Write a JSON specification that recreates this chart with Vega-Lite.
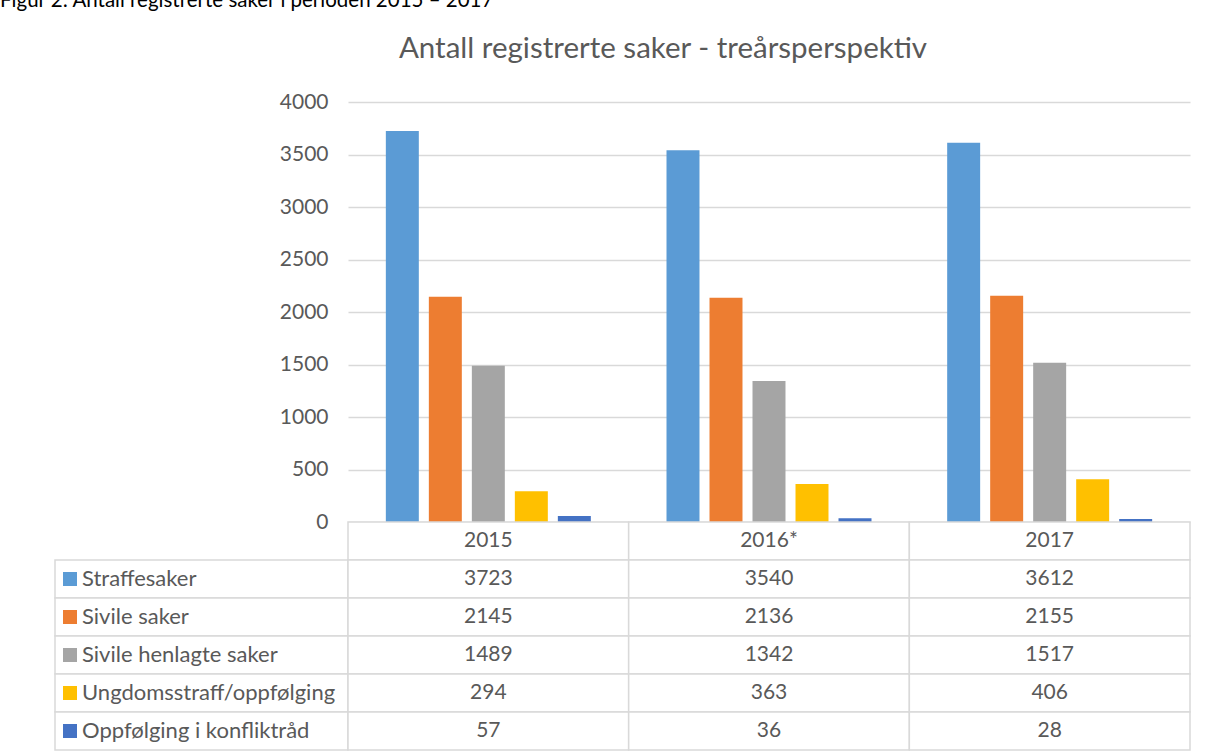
{
  "$schema": "https://vega.github.io/schema/vega-lite/v6.json",
  "background": "white",
  "padding": {"left": 0, "top": -9, "right": 0, "bottom": 0},
  "title": {
    "text": "Figur 2: Antall registrerte saker i perioden 2015 – 2017",
    "anchor": "start", "frame": "group", "dx": -55, "offset": 6,
    "baseline": "alphabetic", "fontSize": 20.5, "fontWeight": "normal",
    "font": "Lato", "color": "#000000"
  },
  "datasets": {
    "cases": [
      {"year": "2015", "series": "Straffesaker", "value": 3723},
      {"year": "2015", "series": "Sivile saker", "value": 2145},
      {"year": "2015", "series": "Sivile henlagte saker", "value": 1489},
      {"year": "2015", "series": "Ungdomsstraff/oppfølging", "value": 294},
      {"year": "2015", "series": "Oppfølging i konfliktråd", "value": 57},
      {"year": "2016*", "series": "Straffesaker", "value": 3540},
      {"year": "2016*", "series": "Sivile saker", "value": 2136},
      {"year": "2016*", "series": "Sivile henlagte saker", "value": 1342},
      {"year": "2016*", "series": "Ungdomsstraff/oppfølging", "value": 363},
      {"year": "2016*", "series": "Oppfølging i konfliktråd", "value": 36},
      {"year": "2017", "series": "Straffesaker", "value": 3612},
      {"year": "2017", "series": "Sivile saker", "value": 2155},
      {"year": "2017", "series": "Sivile henlagte saker", "value": 1517},
      {"year": "2017", "series": "Ungdomsstraff/oppfølging", "value": 406},
      {"year": "2017", "series": "Oppfølging i konfliktråd", "value": 28}
    ],
    "years": [{"year": "2015"}, {"year": "2016*"}, {"year": "2017"}],
    "series": [
      {"series": "Straffesaker"},
      {"series": "Sivile saker"},
      {"series": "Sivile henlagte saker"},
      {"series": "Ungdomsstraff/oppfølging"},
      {"series": "Oppfølging i konfliktråd"}
    ]
  },
  "columns": 2,
  "spacing": 0,
  "bounds": "flush",
  "resolve": {"legend": {"color": "independent"}},
  "concat": [
    {
      "width": 293, "height": 420,
      "data": {"values": []},
      "mark": "point",
      "encoding": {}
    },
    {
      "width": 842, "height": 420,
      "title": {
        "text": "Antall registrerte saker - treårsperspektiv",
        "anchor": "middle", "dx": -106, "offset": 4, "baseline": "alphabetic",
        "fontSize": 29.5, "fontWeight": "normal", "color": "#595959", "font": "Lato"
      },
      "data": {"name": "cases"},
      "mark": {"type": "bar"},
      "encoding": {
        "x": {"field": "year", "type": "nominal", "sort": ["2015", "2016*", "2017"],
              "scale": {"paddingInner": 0, "paddingOuter": 0}, "axis": null},
        "xOffset": {"field": "series", "type": "nominal",
                    "sort": ["Straffesaker", "Sivile saker", "Sivile henlagte saker", "Ungdomsstraff/oppfølging", "Oppfølging i konfliktråd"],
                    "scale": {"paddingInner": 0.233, "paddingOuter": 0.88}},
        "y": {"field": "value", "type": "quantitative",
              "scale": {"domain": [0, 4000], "nice": false},
              "axis": {"values": [0, 500, 1000, 1500, 2000, 2500, 3000, 3500, 4000],
                       "format": "d",
                       "title": null, "domain": false, "ticks": false, "labelPadding": 20,
                       "labelFontSize": 21, "labelColor": "#595959", "labelFont": "Lato",
                       "gridColor": "#D9D9D9", "gridWidth": 1.3}},
        "color": {"field": "series", "type": "nominal",
                  "scale": {"domain": ["Straffesaker", "Sivile saker", "Sivile henlagte saker", "Ungdomsstraff/oppfølging", "Oppfølging i konfliktråd"],
                            "range": ["#5B9BD5", "#ED7D31", "#A5A5A5", "#FFC000", "#4472C4"]},
                  "legend": null}
      }
    },
    {
      "width": 293, "height": 38,
      "data": {"values": []},
      "mark": "point",
      "encoding": {}
    },
    {
      "width": 842, "height": 38,
      "data": {"name": "years"},
      "layer": [
        {
          "mark": {"type": "rect", "fill": "white", "stroke": "#D9D9D9", "strokeWidth": 1.5},
          "encoding": {
            "x": {"field": "year", "type": "nominal", "sort": ["2015", "2016*", "2017"],
                  "scale": {"paddingInner": 0, "paddingOuter": 0}, "axis": null}
          }
        },
        {
          "mark": {"type": "text", "fontSize": 21, "color": "#595959", "font": "Lato", "baseline": "middle"},
          "encoding": {
            "x": {"field": "year", "type": "nominal", "sort": ["2015", "2016*", "2017"],
                  "scale": {"paddingInner": 0, "paddingOuter": 0}, "axis": null},
            "text": {"field": "year"}
          }
        }
      ]
    },
    {
      "width": 293, "height": 190,
      "layer": [
        {
          "data": {"name": "series"},
          "mark": {"type": "rect", "fill": "white", "stroke": "#D9D9D9", "strokeWidth": 1.5},
          "encoding": {
            "y": {"field": "series", "type": "nominal",
                  "sort": ["Straffesaker", "Sivile saker", "Sivile henlagte saker", "Ungdomsstraff/oppfølging", "Oppfølging i konfliktråd"],
                  "scale": {"paddingInner": 0, "paddingOuter": 0}, "axis": null}
          }
        },
        {
          "data": {"name": "series"},
          "mark": {"type": "square", "filled": true, "opacity": 0},
          "encoding": {
            "color": {"field": "series", "type": "nominal",
                      "scale": {"domain": ["Straffesaker", "Sivile saker", "Sivile henlagte saker", "Ungdomsstraff/oppfølging", "Oppfølging i konfliktråd"],
                                "range": ["#5B9BD5", "#ED7D31", "#A5A5A5", "#FFC000", "#4472C4"]},
                      "legend": {"orient": "top-left", "offset": 4, "title": " ",
                                 "titleFontSize": 4, "titlePadding": 0,
                                 "symbolType": "square", "symbolSize": 196, "symbolOpacity": 1,
                                 "symbolStrokeWidth": 0, "labelFontSize": 22, "labelFont": "Lato",
                                 "labelColor": "#595959", "labelOffset": 1, "rowPadding": 16,
                                 "labelLimit": 400, "padding": 0}}
          }
        }
      ]
    },
    {
      "width": 842, "height": 190,
      "data": {"name": "cases"},
      "layer": [
        {
          "mark": {"type": "rect", "fill": "white", "stroke": "#D9D9D9", "strokeWidth": 1.5},
          "encoding": {
            "x": {"field": "year", "type": "nominal", "sort": ["2015", "2016*", "2017"],
                  "scale": {"paddingInner": 0, "paddingOuter": 0}, "axis": null},
            "y": {"field": "series", "type": "nominal",
                  "sort": ["Straffesaker", "Sivile saker", "Sivile henlagte saker", "Ungdomsstraff/oppfølging", "Oppfølging i konfliktråd"],
                  "scale": {"paddingInner": 0, "paddingOuter": 0}, "axis": null}
          }
        },
        {
          "mark": {"type": "text", "fontSize": 21, "color": "#595959", "font": "Lato", "baseline": "middle"},
          "encoding": {
            "x": {"field": "year", "type": "nominal", "sort": ["2015", "2016*", "2017"],
                  "scale": {"paddingInner": 0, "paddingOuter": 0}, "axis": null},
            "y": {"field": "series", "type": "nominal",
                  "sort": ["Straffesaker", "Sivile saker", "Sivile henlagte saker", "Ungdomsstraff/oppfølging", "Oppfølging i konfliktråd"],
                  "scale": {"paddingInner": 0, "paddingOuter": 0}, "axis": null},
            "text": {"field": "value", "type": "quantitative", "format": "d"}
          }
        }
      ]
    }
  ],
  "config": {
    "view": {"stroke": null},
    "font": "Lato"
  }
}
